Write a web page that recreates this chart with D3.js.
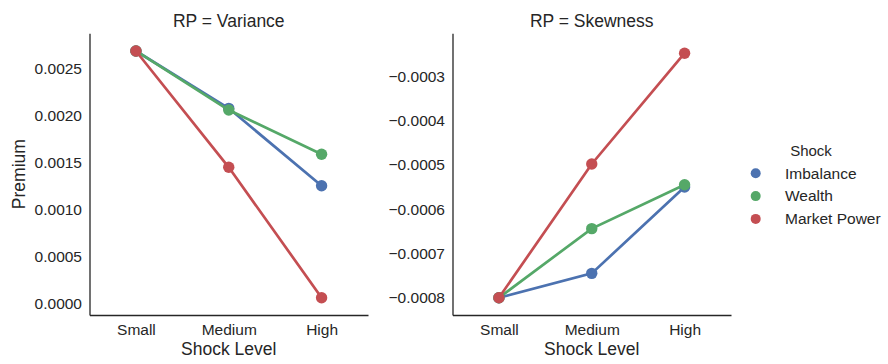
<!DOCTYPE html>
<html>
<head>
<meta charset="utf-8">
<script src="https://cdn.jsdelivr.net/npm/d3@7"></script>
<style>
  body { margin: 0; background: #fff; }
  svg text { font-family: "Liberation Sans", Arial, sans-serif; fill: #262626; }
</style>
</head>
<body>
<div id="chart"></div>
<script>
const levels = ["Small", "Medium", "High"];
const shocks = ["Imbalance", "Wealth", "Market Power"];
const colors = ["#4C72B0", "#55A868", "#C44E52"];

// RP = Variance
const varImbalance = [0.002684, 0.002074, 0.001251];
const varWealth = [0.002684, 0.002056, 0.001585];
const varMarket = [0.002684, 0.001447, 0.00006];
const varTicks = [0.0000, 0.0005, 0.0010, 0.0015, 0.0020, 0.0025];

// RP = Skewness
const skewImbalance = [-0.0008, -0.000745, -0.00055];
const skewWealth = [-0.0008, -0.000644, -0.000545];
const skewMarket = [-0.0008, -0.000498, -0.000248];
const skewTicks = [-0.0008, -0.0007, -0.0006, -0.0005, -0.0004, -0.0003];

const W = 888, H = 364;
const svg = d3.select("#chart").append("svg").attr("width", W).attr("height", H);

const panels = [
  { title: "RP = Variance", left: 89.5, right: 368, series: [varImbalance, varWealth, varMarket],
    domain: [-0.000124, 0.002872], ticks: varTicks, fmt: d3.format(".4f"), ylabel: "Premium" },
  { title: "RP = Skewness", left: 452.5, right: 731, series: [skewImbalance, skewWealth, skewMarket],
    domain: [-0.000839, -0.000203], ticks: skewTicks, fmt: d => d3.format(".4f")(d).replace("-", "\u2212"), ylabel: null }
];
const plotTop = 33.3, plotBottom = 315;

panels.forEach(p => {
  const g = svg.append("g");
  const x = d3.scalePoint().domain(levels).range([p.left, p.right]).padding(0.5);
  const y = d3.scaleLinear().domain(p.domain).range([plotBottom, plotTop]);

  const yAxis = g.append("g")
    .attr("transform", `translate(${p.left},0)`)
    .call(d3.axisLeft(y).tickValues(p.ticks).tickFormat(p.fmt).tickSize(0).tickPadding(7.5));
  const xAxis = g.append("g")
    .attr("transform", `translate(0,${plotBottom})`)
    .call(d3.axisBottom(x).tickSize(0).tickPadding(8.8));
  [yAxis, xAxis].forEach(a => {
    a.select(".domain").attr("stroke", "#262626").attr("stroke-width", 1.3);
    a.selectAll("text").style("font-size", "15.5px").attr("fill", "#262626");
  });

  g.append("text")
    .attr("x", (p.left + p.right) / 2).attr("y", 27)
    .attr("text-anchor", "middle").style("font-size", "17.5px")
    .text(p.title);

  g.append("text")
    .attr("x", (p.left + p.right) / 2).attr("y", 354.5)
    .attr("text-anchor", "middle").style("font-size", "17.5px")
    .text("Shock Level");

  if (p.ylabel) {
    g.append("text")
      .attr("transform", `translate(24.5,${(plotTop + plotBottom) / 2}) rotate(-90)`)
      .attr("text-anchor", "middle").style("font-size", "17.5px")
      .text(p.ylabel);
  }

  const line = d3.line().x((d, i) => x(levels[i])).y(d => y(d));
  p.series.forEach((s, k) => {
    g.append("path").datum(s)
      .attr("fill", "none").attr("stroke", colors[k]).attr("stroke-width", 2.7)
      .attr("d", line);
    g.selectAll(null).data(s).enter().append("circle")
      .attr("cx", (d, i) => x(levels[i])).attr("cy", d => y(d))
      .attr("r", 5.7).attr("fill", colors[k]);
  });
});

// legend
const lg = svg.append("g");
lg.append("text").attr("x", 811).attr("y", 156).attr("text-anchor", "middle")
  .style("font-size", "15px").text("Shock");
shocks.forEach((s, i) => {
  lg.append("circle").attr("cx", 755.7).attr("cy", 173.3 + i * 22.8).attr("r", 5).attr("fill", colors[i]);
  lg.append("text").attr("x", 785).attr("y", 178.6 + i * 22.8)
    .style("font-size", "15.5px").text(s);
});
</script>
</body>
</html>
